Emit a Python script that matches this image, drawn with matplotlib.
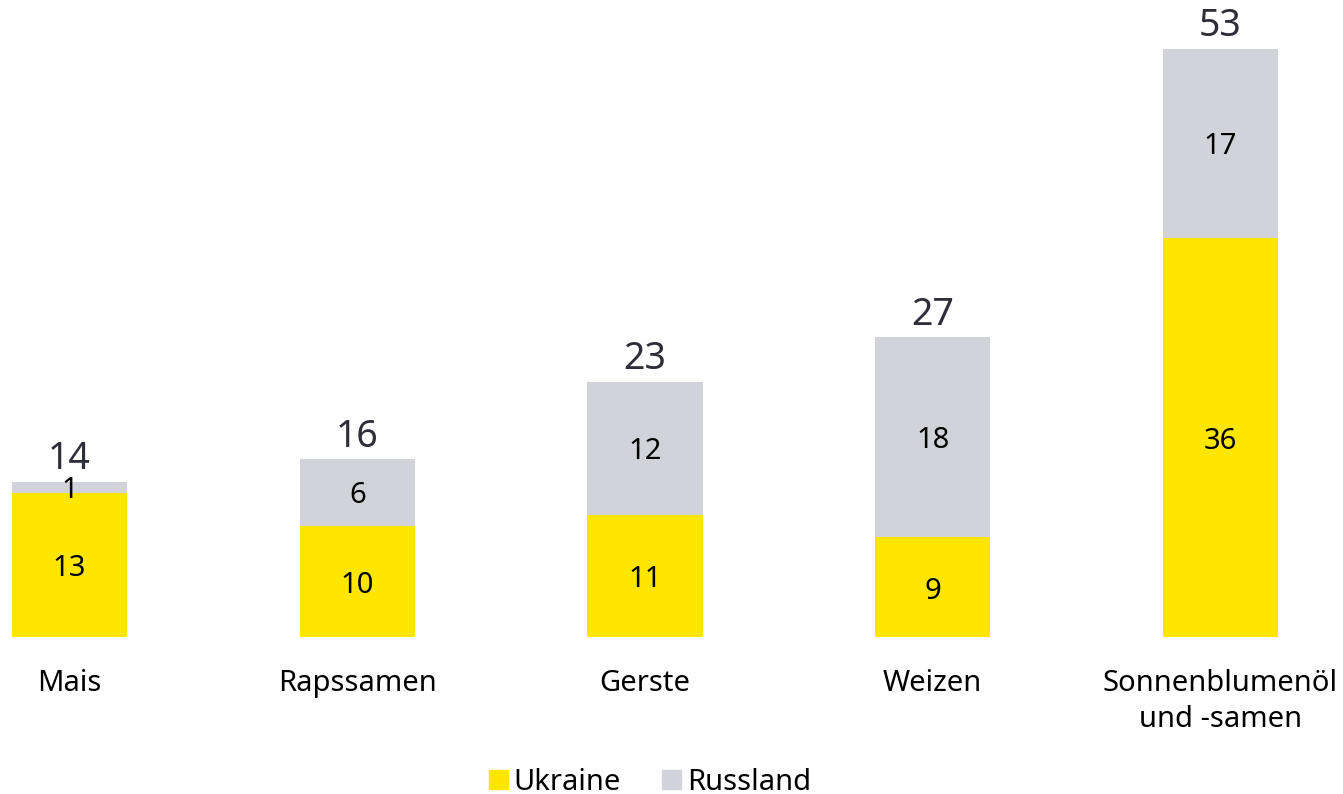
import matplotlib
matplotlib.use("Agg")
import matplotlib.pyplot as plt
from matplotlib.patches import Patch

categories = ["Mais", "Rapssamen", "Gerste", "Weizen", "Sonnenblumenöl\nund -samen"]
ukraine = [13, 10, 11, 9, 36]
russland = [1, 6, 12, 18, 17]
totals = [14, 16, 23, 27, 53]

YELLOW = "#FFE600"
GREY = "#D2D2DA"
DARK = "#2E2E38"

plt.rcParams['font.family'] = ['Noto Sans', 'DejaVu Sans']

fig = plt.figure(figsize=(13.43, 7.94), dpi=100)
W, H = 1343, 794
ax = fig.add_axes([12 / W, (H - 637) / H, (1278 - 12) / W, (637 - 49) / H])
x = list(range(len(categories)))
ax.bar(x, ukraine, width=0.4, color=YELLOW)
ax.bar(x, russland, width=0.4, bottom=ukraine, color=GREY)
ax.set_xlim(-0.2, 4.2)
ax.set_ylim(0, 53)
for i in x:
    ax.annotate(str(ukraine[i]), (i, ukraine[i] / 2), xytext=(0, -4),
                textcoords="offset pixels", ha="center", va="center",
                fontsize=21, color="black")
    ax.annotate(str(russland[i]), (i, ukraine[i] + russland[i] / 2), xytext=(0, -3),
                textcoords="offset pixels", ha="center", va="center",
                fontsize=21, color="black")
    ax.annotate(str(totals[i]), (i, totals[i]), xytext=(0, 16.5),
                textcoords="offset points", ha="center", va="center",
                fontsize=27, color=DARK)
ax.set_xticks(x)
ax.set_xticklabels(categories, fontsize=21, color="black", linespacing=1.3)
ax.tick_params(axis="x", length=0, pad=23)
ax.set_yticks([])
for s in ax.spines.values():
    s.set_visible(False)

handles = [Patch(color=YELLOW, label="Ukraine"), Patch(color=GREY, label="Russland")]
fig.legend(handles=handles, loc="center", bbox_to_anchor=(650 / W, 1 - 782 / H),
           ncol=2, frameon=False, fontsize=21, handlelength=0.65, handleheight=0.65,
           handletextpad=0.2, columnspacing=1.4)

fig.savefig("out.png", dpi=100)
